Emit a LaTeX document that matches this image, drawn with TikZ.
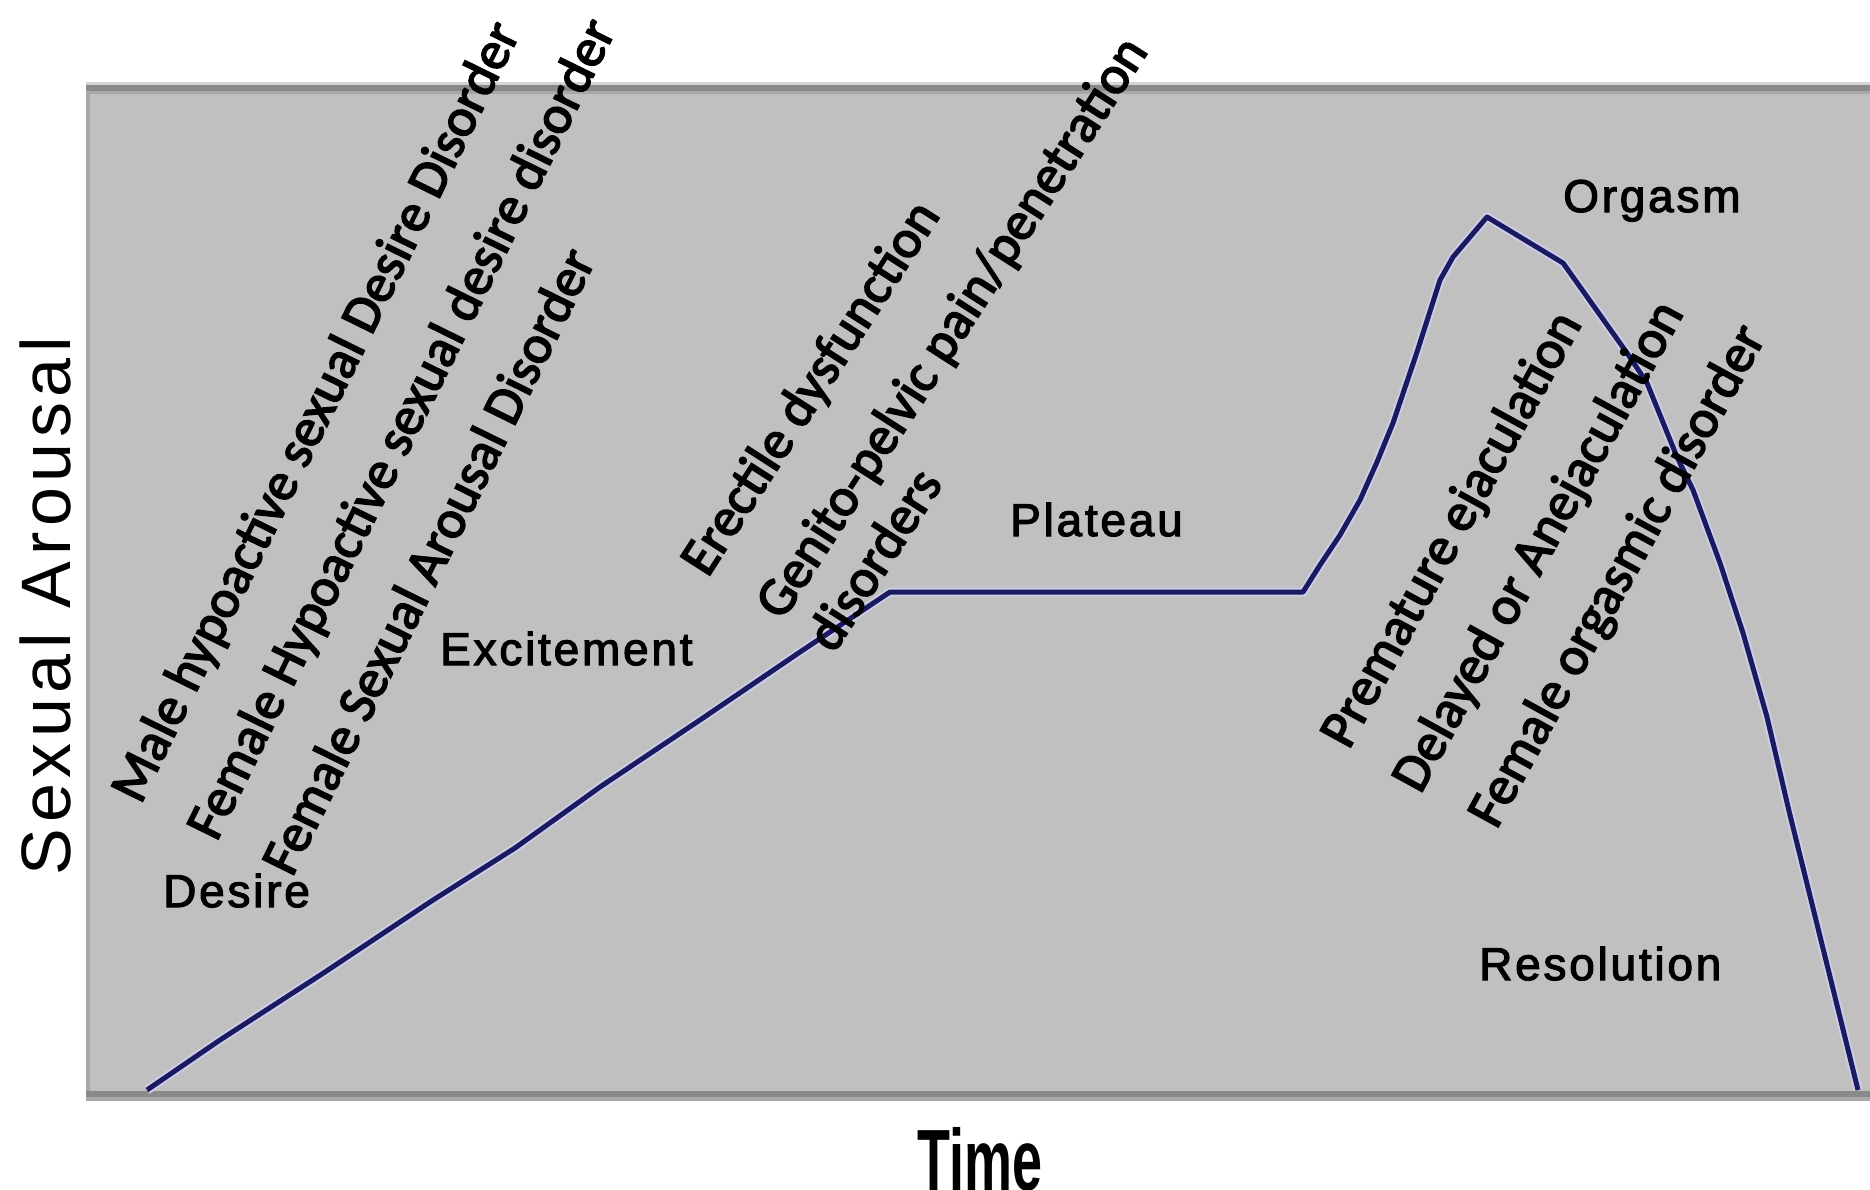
\documentclass[tikz,border=0pt]{standalone}
\usepackage{fontspec}
\usepackage{graphicx}
\setmainfont{Liberation Sans}
\newfontfamily\carl[FakeBold=3]{Carlito}
\newfontfamily\arsp[LetterSpace=6,FakeBold=2.5]{Liberation Sans}
\newfontfamily\arspy[LetterSpace=8]{Liberation Sans}
\newfontfamily\arbold{Liberation Sans Bold}
\definecolor{boxgray}{RGB}{192,192,192}
\definecolor{edgedark}{RGB}{138,138,138}
\definecolor{edgemid}{RGB}{168,168,168}
\definecolor{edgelight}{RGB}{212,212,212}
\definecolor{curveblue}{RGB}{26,26,96}
\definecolor{halo}{RGB}{205,205,232}
\begin{document}
\begin{tikzpicture}[x=1pt,y=-1pt,
  dis/.style={font=\carl\fontsize{54}{65}\selectfont, anchor=base west, inner sep=0pt},
  phase/.style={font=\arsp\fontsize{46}{55}\selectfont, anchor=base west, inner sep=0pt},
  curvehalo/.style={line width=9pt, color=halo, line join=round},
  curvemain/.style={line width=5pt, color=curveblue, line join=round}]
\useasboundingbox (0,0) rectangle (1870,1189);
\fill[white] (0,0) rectangle (1870,1189);
% plot area
\fill[boxgray] (86,82) rectangle (1870,1101);
\fill[edgelight] (86,82) rectangle (1870,85);
\fill[edgedark] (86,85) rectangle (1870,91);
\fill[edgemid] (86,91) rectangle (1870,94);
\fill[edgemid] (86,94) rectangle (90,1091);
\fill[edgedark] (86,1091) rectangle (1870,1097);
\fill[edgemid] (86,1097) rectangle (1870,1101);
% arousal curve
\def\curvepath{(147,1090) -- (220,1040) -- (325,972) -- (430,902) -- (515,848) -- (600,787) -- (700,720) -- (800,652) -- (890,592) -- (1303,592) -- (1320,565) -- (1340,535) -- (1360,500) -- (1377,462) -- (1393,423) -- (1417,352) -- (1440,280) -- (1453,257) -- (1487,217) -- (1563,263) -- (1573,277) -- (1627,353) -- (1647,383) -- (1677,457) -- (1693,490) -- (1720,563) -- (1743,633) -- (1767,717) -- (1789,811) -- (1858,1090)}
\draw[curvehalo] \curvepath;
\draw[curvemain] \curvepath;
% axis titles
\node[font=\arspy\fontsize{70}{84}\selectfont, rotate=90, anchor=base, inner sep=0pt] (ylab) at (70,606) {Sexual Arousal};
\node[font=\arbold\fontsize{87}{100}\selectfont, anchor=base west, inner sep=0pt] (xlab) at (917,1190) {\scalebox{0.62}[1]{Time}};
% phase labels
\node[phase] (desire) at (163,907) {Desire};
\node[phase] (excite) at (440,665) {Excitement};
\node[phase] (plateau) at (1010,536) {Plateau};
\node[phase] (orgasm) at (1563,212) {Orgasm};
\node[phase] (resol) at (1479,980) {Resolution};
% disorder labels
\node[dis, rotate=63.8] (d1) at (140.5,805.4) {Male hypoactive sexual Desire Disorder};
\node[dis, rotate=63.8] (d2) at (216.5,842.5) {Female Hypoactive sexual desire disorder};
\node[dis, rotate=63.8] (d3) at (292,878) {Female Sexual Arousal Disorder};
\node[dis, rotate=57.3] (d4) at (707.6,578.6) {Erectile dysfunction};
\node[dis, rotate=57.3] (d5) at (782.5,621.8) {Genito-pelvic pain/penetration};
\node[dis, rotate=57.3] (d6) at (834,654.4) {disorders};
\node[dis, rotate=61.3] (d7) at (1348.6,750.7) {Premature ejaculation};
\node[dis, rotate=61.3] (d8) at (1420.3,795) {Delayed or Anejaculation};
\node[dis, rotate=61.3] (d9) at (1496.3,830.3) {Female orgasmic disorder};
\end{tikzpicture}
\end{document}
